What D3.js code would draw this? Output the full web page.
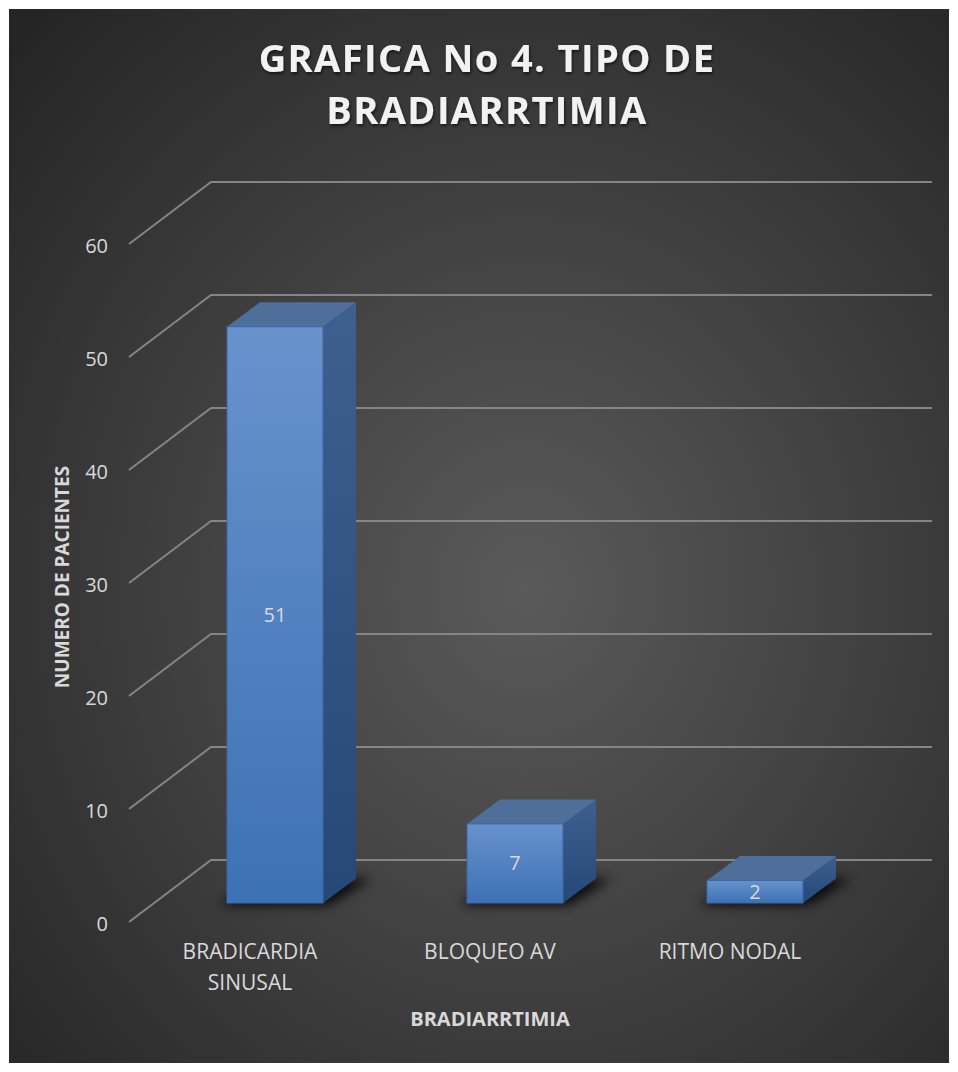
<!DOCTYPE html>
<html>
<head>
<meta charset="utf-8">
<script src="https://cdn.jsdelivr.net/npm/d3@7"></script>
<style>
  html, body { margin: 0; padding: 0; background: #fff; }
  svg { display: block; }
  text { font-family: "Open Sans", "Noto Sans", sans-serif; }
</style>
</head>
<body>
<svg id="chart" width="958" height="1072"></svg>
<script>
// data
const categories = ["BRADICARDIA SINUSAL", "BLOQUEO AV", "RITMO NODAL"];
const values = [51, 7, 2];
const yTicks = [0, 10, 20, 30, 40, 50, 60];
const titleLines = ["GRAFICA No 4. TIPO DE", "BRADIARRTIMIA"];
const yTitle = "NUMERO DE PACIENTES";
const xTitle = "BRADIARRTIMIA";

const svg = d3.select("#chart");
const defs = svg.append("defs");

// background gradient (dark radial like the office style)
const bg = defs.append("radialGradient").attr("id", "bg")
    .attr("cx", "0.55").attr("cy", "0.55").attr("r", "0.75");
bg.append("stop").attr("offset", "0%").attr("stop-color", "#5a5a5a");
bg.append("stop").attr("offset", "100%").attr("stop-color", "#252525");

const front = defs.append("linearGradient").attr("id", "front")
    .attr("x1", 0).attr("y1", 0).attr("x2", 0).attr("y2", 1);
front.append("stop").attr("offset", "0%").attr("stop-color", "#6892cc");
front.append("stop").attr("offset", "100%").attr("stop-color", "#3d71b5");

const side = defs.append("linearGradient").attr("id", "side")
    .attr("x1", 0).attr("y1", 0).attr("x2", 0).attr("y2", 1);
side.append("stop").attr("offset", "0%").attr("stop-color", "#3e6090");
side.append("stop").attr("offset", "100%").attr("stop-color", "#264879");

defs.append("filter").attr("id", "blur")
    .attr("x", "-50%").attr("y", "-50%").attr("width", "200%").attr("height", "200%")
    .append("feGaussianBlur").attr("stdDeviation", 6);

const tshadow = defs.append("filter").attr("id", "tshadow");
tshadow.append("feDropShadow").attr("dx", 1).attr("dy", 2)
    .attr("stdDeviation", 1.5).attr("flood-color", "#000").attr("flood-opacity", 0.6);

svg.append("rect")
    .attr("x", 9).attr("y", 9).attr("width", 940).attr("height", 1054)
    .attr("fill", "url(#bg)");

// scales
const y = d3.scaleLinear().domain([0, 60]).range([903, 225]);
const x = d3.scalePoint().domain(categories).range([155, 875]).padding(0.5);
const barW = 96;
const depthX = 33, depthY = -24.5;
const frontOff = 19, backOff = -43;
const floorLeft = 129, wallLeft = 211, wallRight = 932;

// gridlines (floor diagonal + back wall)
const grid = svg.append("g");
grid.selectAll("path").data(yTicks).enter().append("path")
    .attr("d", d => "M" + floorLeft + "," + (y(d) + frontOff) +
        "L" + wallLeft + "," + (y(d) + backOff) +
        "L" + wallRight + "," + (y(d) + backOff))
    .attr("fill", "none")
    .attr("stroke", "#858585")
    .attr("stroke-width", 2);

// tick labels
svg.append("g").selectAll("text").data(yTicks).enter().append("text")
    .attr("x", 108)
    .attr("y", d => y(d) + frontOff + 2)
    .attr("dy", "0.35em")
    .attr("text-anchor", "end")
    .attr("fill", "#d9d9d9")
    .style("font-size", "20px")
    .text(d => d);

// bars
const bars = svg.append("g").selectAll("g").data(values).enter().append("g");
const x0 = (d, i) => x(categories[i]) - barW / 2;
const x1 = (d, i) => x(categories[i]) + barW / 2;

bars.append("path")
    .attr("d", (d, i) => {
        const a = x0(d, i), b = x1(d, i), base = y(0);
        return "M" + (a - 8) + "," + (base + 2) + "L" + (b + 6) + "," + (base + 2) +
            "L" + (b + depthX + 16) + "," + (base + depthY) + "L" + (a + depthX) + "," + (base + depthY) + "Z";
    })
    .attr("fill", "#000")
    .attr("opacity", 0.85)
    .attr("filter", "url(#blur)");

bars.append("path")
    .attr("d", (d, i) => {
        const b = x1(d, i), t = y(d), base = y(0);
        return "M" + b + "," + t + "L" + (b + depthX) + "," + (t + depthY) +
            "L" + (b + depthX) + "," + (base + depthY) + "L" + b + "," + base + "Z";
    })
    .attr("fill", "url(#side)");

bars.append("path")
    .attr("d", (d, i) => {
        const a = x0(d, i), b = x1(d, i), t = y(d);
        return "M" + a + "," + t + "L" + (a + depthX) + "," + (t + depthY) +
            "L" + (b + depthX) + "," + (t + depthY) + "L" + b + "," + t + "Z";
    })
    .attr("fill", "#4f6f9b");

bars.append("rect")
    .attr("x", x0)
    .attr("y", d => y(d))
    .attr("width", barW)
    .attr("height", d => y(0) - y(d))
    .attr("fill", "url(#front)")
    .attr("stroke", "#3a68a6")
    .attr("stroke-width", 1);

bars.append("text")
    .attr("x", (d, i) => x(categories[i]))
    .attr("y", d => (y(d) + y(0)) / 2)
    .attr("dy", "0.35em")
    .attr("text-anchor", "middle")
    .attr("fill", "#d9d9d9")
    .style("font-size", "20px")
    .text(d => d);

// category labels (wrapped)
const catLabels = svg.append("g").selectAll("text").data(categories).enter().append("text")
    .attr("x", d => x(d) - 25)
    .attr("y", 959)
    .attr("text-anchor", "middle")
    .attr("fill", "#d9d9d9")
    .style("font-size", "21px")
    .text(d => d);

catLabels.each(function (d) {
    const t = d3.select(this);
    if (this.getComputedTextLength() > 165) {
        const words = d.split(" ");
        t.text(null);
        words.forEach((w, k) => {
            t.append("tspan")
                .attr("x", x(d) - 25)
                .attr("dy", k === 0 ? 0 : 31)
                .text(w);
        });
    }
});

// titles
svg.append("g").selectAll("text").data(titleLines).enter().append("text")
    .attr("x", 487)
    .attr("y", (d, i) => 72 + i * 52)
    .attr("text-anchor", "middle")
    .attr("fill", "#f2f2f2")
    .attr("filter", "url(#tshadow)")
    .style("font-size", "38px")
    .style("font-weight", 700)
    .style("letter-spacing", "1.4px")
    .text(d => d);

svg.append("text")
    .attr("transform", "translate(69,577) rotate(-90)")
    .attr("text-anchor", "middle")
    .attr("fill", "#d9d9d9")
    .style("font-size", "19px")
    .style("font-weight", 700)
    .text(yTitle);

svg.append("text")
    .attr("x", 490)
    .attr("y", 1026)
    .attr("text-anchor", "middle")
    .attr("fill", "#d9d9d9")
    .style("font-size", "20px")
    .style("font-weight", 700)
    .text(xTitle);
</script>
</body>
</html>
